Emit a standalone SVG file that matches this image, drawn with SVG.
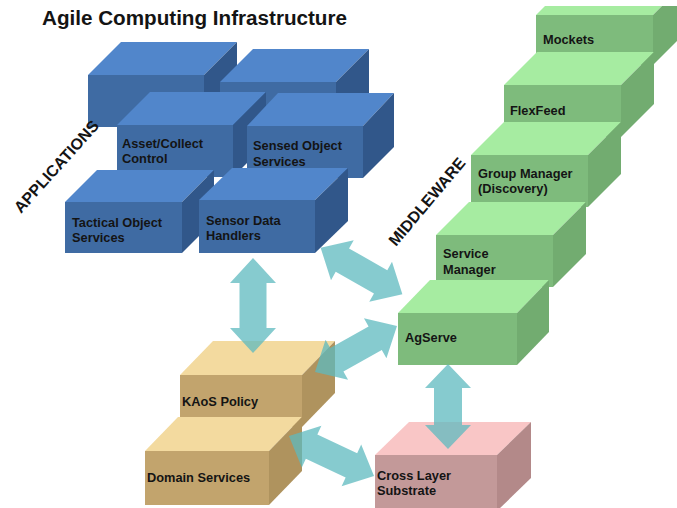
<svg xmlns="http://www.w3.org/2000/svg" width="677" height="508" viewBox="0 0 677 508">
  <style>
    text { font-family: "Liberation Sans", Arial, sans-serif; font-weight: bold; fill: #141414; }
    .title { font-size: 20px; }
    .lbl { font-size: 12.8px; }
    .layer { font-size: 16px; }
    .blue .top { fill: #5186CB; } .blue .front { fill: #3F6BA3; } .blue .side { fill: #31578A; }
    .green .top { fill: #A6ECA1; } .green .front { fill: #7EBB7C; } .green .side { fill: #72AC70; }
    .tan .top { fill: #F3DA9F; } .tan .front { fill: #C2A46D; } .tan .side { fill: #AF935E; }
    .pink .top { fill: #F9C6C6; } .pink .front { fill: #C39999; } .pink .side { fill: #B38989; }
    .arrow { fill: #5DB9BF; fill-opacity: 0.75; }
  </style>
  <defs>
    <clipPath id="clipTop"><rect x="0" y="6" width="677" height="502"/></clipPath>
  </defs>
  <rect width="677" height="508" fill="#ffffff"/>

  <text class="title" x="42" y="25" textLength="305" lengthAdjust="spacingAndGlyphs">Agile Computing Infrastructure</text>

  <!-- Applications layer -->
  <g id="app-back-left" class="blue">
    <polygon class="top" points="88,75 204,75 237,42 121,42"/>
    <polygon class="side" points="204,75 237,42 237,94 204,127"/>
    <rect class="front" x="88" y="75" width="116" height="52"/>
  </g>
  <g id="app-back-right" class="blue">
    <polygon class="top" points="220,82 336,82 369,49 253,49"/>
    <polygon class="side" points="336,82 369,49 369,101 336,134"/>
    <rect class="front" x="220" y="82" width="116" height="52"/>
  </g>
  <g id="asset-collect" class="blue">
    <polygon class="top" points="117,125 233,125 266,92 150,92"/>
    <polygon class="side" points="233,125 266,92 266,144 233,177"/>
    <rect class="front" x="117" y="125" width="116" height="52"/>
    <text class="lbl" x="122" y="148">Asset/Collect</text>
    <text class="lbl" x="122" y="163">Control</text>
  </g>
  <g id="sensed-object" class="blue">
    <polygon class="top" points="247,126 363,126 394,93 278,93"/>
    <polygon class="side" points="363,126 394,93 394,147 363,178"/>
    <rect class="front" x="247" y="126" width="116" height="52"/>
    <text class="lbl" x="253" y="150">Sensed Object</text>
    <text class="lbl" x="253" y="166">Services</text>
  </g>
  <g id="tactical-object" class="blue">
    <polygon class="top" points="65,202 182,202 214,170 97,170"/>
    <polygon class="side" points="182,202 214,170 214,221 182,253"/>
    <rect class="front" x="65" y="202" width="117" height="51"/>
    <text class="lbl" x="72" y="227">Tactical Object</text>
    <text class="lbl" x="72" y="242">Services</text>
  </g>
  <g id="sensor-data" class="blue">
    <polygon class="top" points="199,200 315,200 348,168 232,168"/>
    <polygon class="side" points="315,200 348,168 348,221 315,253"/>
    <rect class="front" x="199" y="200" width="116" height="53"/>
    <text class="lbl" x="206" y="225">Sensor Data</text>
    <text class="lbl" x="206" y="240">Handlers</text>
  </g>
  <text class="layer" x="21" y="214" transform="rotate(-48 21 214)">APPLICATIONS</text>

  <!-- Middleware layer -->
  <g id="mockets" class="green" clip-path="url(#clipTop)">
    <polygon class="top" points="536,15 653,15 686,-18 569,-18"/>
    <polygon class="side" points="653,15 686,-18 686,32 653,65"/>
    <rect class="front" x="536" y="15" width="117" height="50"/>
    <text class="lbl" x="543" y="44">Mockets</text>
  </g>
  <g id="flexfeed" class="green">
    <polygon class="top" points="504,85 621,85 654,52 537,52"/>
    <polygon class="side" points="621,85 654,52 654,104 621,137"/>
    <rect class="front" x="504" y="85" width="117" height="52"/>
    <text class="lbl" x="510" y="115">FlexFeed</text>
  </g>
  <g id="group-manager" class="green">
    <polygon class="top" points="471,155 588,155 621,122 504,122"/>
    <polygon class="side" points="588,155 621,122 621,174 588,207"/>
    <rect class="front" x="471" y="155" width="117" height="52"/>
    <text class="lbl" x="478" y="178">Group Manager</text>
    <text class="lbl" x="478" y="193">(Discovery)</text>
  </g>
  <g id="service-manager" class="green">
    <polygon class="top" points="436,235 553,235 586,202 469,202"/>
    <polygon class="side" points="553,235 586,202 586,254 553,287"/>
    <rect class="front" x="436" y="235" width="117" height="52"/>
    <text class="lbl" x="443" y="258">Service</text>
    <text class="lbl" x="443" y="274">Manager</text>
  </g>
  <g id="agserve" class="green">
    <polygon class="top" points="398,313 517,313 549,280 430,280"/>
    <polygon class="side" points="517,313 549,280 549,332 517,365"/>
    <rect class="front" x="398" y="313" width="119" height="52"/>
    <text class="lbl" x="405" y="342">AgServe</text>
  </g>
  <text class="layer" x="396" y="247" transform="rotate(-50 396 247)">MIDDLEWARE</text>

  <!-- Policy and domain services -->
  <g id="kaos-policy" class="tan">
    <polygon class="top" points="180,375 302,375 335,341 213,341"/>
    <polygon class="side" points="302,375 335,341 335,393 302,427"/>
    <rect class="front" x="180" y="375" width="122" height="52"/>
    <text class="lbl" x="182" y="406">KAoS Policy</text>
  </g>
  <g id="domain-services" class="tan">
    <polygon class="top" points="145,451 269,451 302,417 178,417"/>
    <polygon class="side" points="269,451 302,417 302,471 269,505"/>
    <rect class="front" x="145" y="451" width="124" height="54"/>
    <text class="lbl" x="147" y="482">Domain Services</text>
  </g>

  <!-- Substrate -->
  <g id="cross-layer" class="pink">
    <polygon class="top" points="375,455 497,455 531,422 409,422"/>
    <polygon class="side" points="497,455 531,422 531,478 497,511"/>
    <rect class="front" x="375" y="455" width="122" height="56"/>
    <text class="lbl" x="377" y="480">Cross Layer</text>
    <text class="lbl" x="377" y="495">Substrate</text>
  </g>

  <!-- Two-way connectors -->
  <g id="connectors">
    <polygon class="arrow" transform="translate(253 305.5) rotate(90)" points="-47.5,0 -22.5,-23 -22.5,-13.5 22.5,-13.5 22.5,-23 47.5,0 22.5,23 22.5,13.5 -22.5,13.5 -22.5,23"/>
    <polygon class="arrow" transform="translate(361.5 271) rotate(29.6)" points="-47,0 -22,-23 -22,-13.5 22,-13.5 22,-23 47,0 22,23 22,13.5 -22,13.5 -22,23"/>
    <polygon class="arrow" transform="translate(356 349) rotate(-29.3)" points="-47,0 -22,-23 -22,-13.5 22,-13.5 22,-23 47,0 22,23 22,13.5 -22,13.5 -22,23"/>
    <polygon class="arrow" transform="translate(331.5 456) rotate(25.2)" points="-47,0 -22,-23 -22,-13.5 22,-13.5 22,-23 47,0 22,23 22,13.5 -22,13.5 -22,23"/>
    <polygon class="arrow" transform="translate(448 406.5) rotate(90)" points="-42.5,0 -18.5,-23 -18.5,-14 18.5,-14 18.5,-23 42.5,0 18.5,23 18.5,14 -18.5,14 -18.5,23"/>
  </g>
</svg>
